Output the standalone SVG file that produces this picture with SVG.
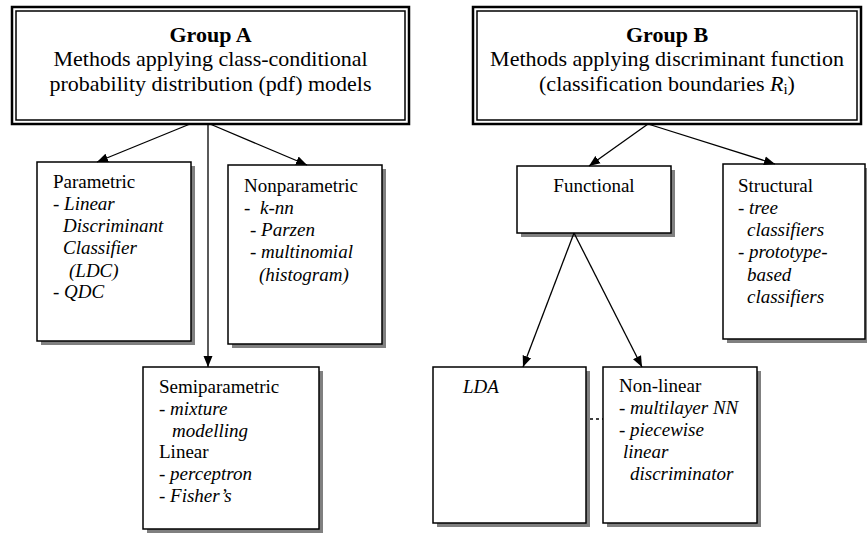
<svg xmlns="http://www.w3.org/2000/svg" width="867" height="534" viewBox="0 0 867 534">
<style>
.hd{font-size:22px}
.tt{font-size:22px;font-weight:bold}
.bx{font-size:19px}
.it{font-style:italic}
.box{fill:#fff;stroke:#000;stroke-width:1.5}
.sh{fill:#808080}
.outer{fill:#fff;stroke:#000;stroke-width:2.5}
.inner{fill:none;stroke:#000;stroke-width:1.5}
.con{stroke:#000;stroke-width:1.3;fill:none}
</style>
<defs>
<marker id="ah" markerUnits="userSpaceOnUse" markerWidth="12" markerHeight="10" refX="11" refY="5" orient="auto">
<path d="M0,0.5 L11,5 L0,9.5 z" fill="#000"/>
</marker>
</defs>
<g font-family="Liberation Serif, Times New Roman, serif" fill="#000">
<g id="groupA">
<rect class="outer" x="12" y="7" width="397" height="117"/>
<rect class="inner" x="16" y="11" width="389" height="109"/>
<text class="tt" x="210.5" y="41.5" text-anchor="middle">Group A</text>
<text class="hd" x="210.5" y="66" text-anchor="middle">Methods applying class-conditional</text>
<text class="hd" x="210.5" y="90.5" text-anchor="middle">probability distribution (pdf) models</text>
</g>

<g id="groupB">
<rect class="outer" x="473" y="7" width="388" height="117"/>
<rect class="inner" x="477" y="11" width="380" height="109"/>
<text class="tt" x="667" y="41.5" text-anchor="middle">Group B</text>
<text class="hd" x="667" y="66" text-anchor="middle">Methods applying discriminant function</text>
<text class="hd" x="667" y="90.5" text-anchor="middle">(classification boundaries <tspan class="it">R</tspan><tspan font-size="15" dy="3">i</tspan><tspan dy="-3">)</tspan></text>
</g>

<g id="parametric">
<rect class="sh" x="41" y="166" width="154" height="179"/>
<rect class="box" x="37" y="162" width="154" height="179"/>
<text class="bx" x="53" y="188">Parametric</text>
<text class="bx" x="53" y="210">- <tspan class="it">Linear</tspan></text>
<text class="bx it" x="63" y="232">Discriminant</text>
<text class="bx it" x="63" y="254">Classifier</text>
<text class="bx it" x="69" y="277">(LDC)</text>
<text class="bx" x="53" y="298">- <tspan class="it">QDC</tspan></text>
</g>

<g id="nonparametric">
<rect class="sh" x="232" y="169" width="154" height="179"/>
<rect class="box" x="228" y="165" width="154" height="179"/>
<text class="bx" x="244" y="192">Nonparametric</text>
<text class="bx" x="244" y="214">-</text>
<text class="bx it" x="260" y="214">k-nn</text>
<text class="bx" x="250" y="236">- <tspan class="it">Parzen</tspan></text>
<text class="bx" x="250" y="258">- <tspan class="it">multinomial</tspan></text>
<text class="bx it" x="259" y="281">(histogram)</text>
</g>

<g id="semiparametric">
<rect class="sh" x="147" y="371" width="176" height="162"/>
<rect class="box" x="143" y="367" width="176" height="162"/>
<text class="bx" x="159" y="393">Semiparametric</text>
<text class="bx" x="159" y="415">- <tspan class="it">mixture</tspan></text>
<text class="bx it" x="172" y="437">modelling</text>
<text class="bx" x="159" y="458">Linear</text>
<text class="bx" x="159" y="480">- <tspan class="it">perceptron</tspan></text>
<text class="bx" x="159" y="502">- <tspan class="it">Fisher’s</tspan></text>
</g>

<g id="functional">
<rect class="sh" x="521" y="170" width="154" height="67"/>
<rect class="box" x="517" y="166" width="154" height="67"/>
<text class="bx" x="594" y="192" text-anchor="middle">Functional</text>
</g>

<g id="structural">
<rect class="sh" x="727" y="168" width="142" height="175"/>
<rect class="box" x="723" y="164" width="142" height="175"/>
<text class="bx" x="738" y="192">Structural</text>
<text class="bx" x="738" y="214">- <tspan class="it">tree</tspan></text>
<text class="bx it" x="747" y="236">classifiers</text>
<text class="bx" x="738" y="258">- <tspan class="it">prototype-</tspan></text>
<text class="bx it" x="747" y="281">based</text>
<text class="bx it" x="747" y="303">classifiers</text>
</g>

<g id="lda">
<rect class="sh" x="437" y="371" width="153" height="156"/>
<rect class="box" x="433" y="367" width="153" height="156"/>
<text class="bx it" x="463" y="393">LDA</text>
</g>

<g id="nonlinear">
<rect class="sh" x="607" y="371" width="154" height="156"/>
<rect class="box" x="603" y="367" width="154" height="156"/>
<text class="bx" x="619" y="392">Non-linear</text>
<text class="bx" x="619" y="414">- <tspan class="it">multilayer NN</tspan></text>
<text class="bx" x="619" y="436">- <tspan class="it">piecewise</tspan></text>
<text class="bx it" x="623" y="458">linear</text>
<text class="bx it" x="630" y="480">discriminator</text>
</g>
</g>
<g id="connectors">
<line class="con" x1="190" y1="124" x2="97" y2="162" marker-end="url(#ah)"/>
<line class="con" x1="210" y1="124" x2="307" y2="165" marker-end="url(#ah)"/>
<line class="con" x1="208" y1="124" x2="208" y2="367" marker-end="url(#ah)"/>
<line class="con" x1="648" y1="124" x2="589" y2="166" marker-end="url(#ah)"/>
<line class="con" x1="648" y1="124" x2="775" y2="164" marker-end="url(#ah)"/>
<line class="con" x1="574" y1="233" x2="523" y2="367" marker-end="url(#ah)"/>
<line class="con" x1="574" y1="233" x2="642" y2="367" marker-end="url(#ah)"/>
<line class="con" x1="590" y1="419" x2="603" y2="419" stroke-dasharray="3,3"/>
</g>
</svg>
